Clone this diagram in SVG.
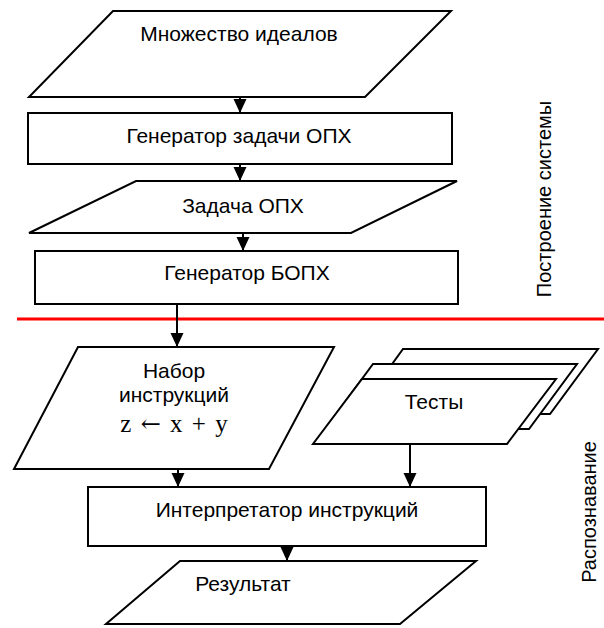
<svg xmlns="http://www.w3.org/2000/svg" width="604" height="628" viewBox="0 0 604 628">
<style>
.s{fill:#fff;stroke:#000;stroke-width:2;stroke-linejoin:miter}
.t{font-family:"Liberation Sans",Arial,sans-serif;font-size:21px;fill:#000;text-anchor:middle}
.r{font-family:"Liberation Sans",Arial,sans-serif;font-size:20px;fill:#000;text-anchor:middle}
.m{font-family:"Liberation Serif","Times New Roman",serif;font-size:25px;fill:#000;text-anchor:middle;word-spacing:3px}
.c{stroke:#000;stroke-width:2;fill:none;marker-end:url(#ah)}
</style>
<defs>
<marker id="ah" markerUnits="userSpaceOnUse" markerWidth="14" markerHeight="14" refX="14" refY="7" orient="auto">
<path d="M0,0.5 L14,7 L0,13.5 z" fill="#000"/>
</marker>
</defs>
<rect width="604" height="628" fill="#fff"/>
<line x1="17" y1="319" x2="604" y2="319" stroke="#f00" stroke-width="3"/>
<g id="n1"><polygon class="s" points="113,11 451,11 365,97 29,97"/><text class="t" x="239" y="41">Множество идеалов</text></g>
<g id="n2"><rect class="s" x="28" y="113" width="424" height="51"/><text class="t" x="239" y="143">Генератор задачи ОПХ</text></g>
<g id="n3"><polygon class="s" points="136,181 457,181 351,233 29,233"/><text class="t" x="243" y="213">Задача ОПХ</text></g>
<g id="n4"><rect class="s" x="35" y="251" width="423" height="53"/><text class="t" x="247" y="280">Генератор БОПХ</text></g>
<g id="n5"><polygon class="s" points="78,347 334,347 269,469 14,469"/><text class="t" x="174" y="378">Набор</text><text class="t" x="174" y="402">инструкций</text><text class="m" x="174" y="432">z <tspan font-family="'DejaVu Serif',serif" font-size="24">←</tspan> x + y</text></g>
<g id="n6"><polygon class="s" points="403,349 598,349 550,414 356,414"/><polygon class="s" points="373,364 577,364 529,429 325,429"/><polygon class="s" points="362,379 556,379 507,444 313,444"/><text class="t" x="434" y="409">Тесты</text></g>
<g id="n7"><rect class="s" x="88" y="487" width="398" height="59"/><text class="t" x="287" y="517">Интерпретатор инструкций</text></g>
<g id="n8"><polygon class="s" points="180,561 476,561 400,624 106,624"/><text class="t" x="243" y="591">Результат</text></g>
<g id="l1"><text class="r" transform="translate(551,199) rotate(-90)">Построение системы</text></g>
<g id="l2"><text class="r" transform="translate(596,512) rotate(-90)">Распознавание</text></g>
<g id="connectors">
<line class="c" x1="240" y1="97" x2="240" y2="113"/>
<line class="c" x1="240" y1="164" x2="240" y2="181"/>
<line class="c" x1="243" y1="233" x2="243" y2="251"/>
<line class="c" x1="177" y1="304" x2="177" y2="347"/>
<line class="c" x1="178" y1="469" x2="178" y2="487"/>
<line class="c" x1="410" y1="444" x2="410" y2="487"/>
<line class="c" x1="287" y1="546" x2="287" y2="561"/>
</g>
</svg>
